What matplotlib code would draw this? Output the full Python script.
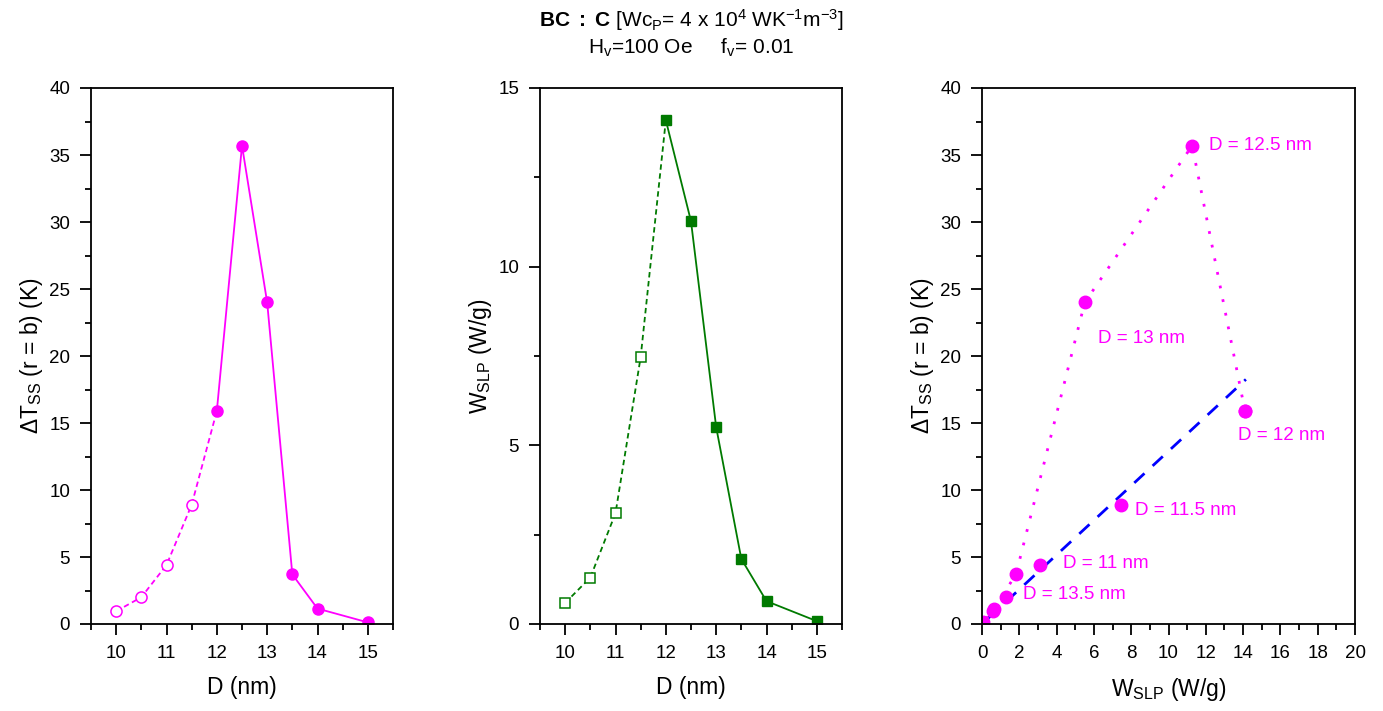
import numpy as np
import matplotlib
matplotlib.use('Agg')
import matplotlib.pyplot as plt
from matplotlib.ticker import MultipleLocator

plt.rcParams['font.family'] = ['Liberation Sans', 'DejaVu Sans']
plt.rcParams['mathtext.fontset'] = 'custom'
plt.rcParams['mathtext.rm'] = 'Liberation Sans'
plt.rcParams['mathtext.bf'] = 'Liberation Sans:bold'
plt.rcParams['mathtext.it'] = 'Liberation Sans:italic'
plt.rcParams['mathtext.default'] = 'regular'

# диаметр частиц (нм)
d_open = [10, 10.5, 11, 11.5, 12]
d_full = [12, 12.5, 13, 13.5, 14, 15]

# перегрев ΔT_SS (K)
dt_open = [0.95, 2.0, 4.4, 8.9, 15.9]
dt_full = [15.9, 35.7, 24.0, 3.7, 1.15, 0.12]

# удельная мощность W_SLP (W/g)
w_open = [0.59, 1.3, 3.1, 7.47, 14.1]
w_full = [14.1, 11.27, 5.51, 1.82, 0.64, 0.08]

# подписи на правом графике: (текст, x, y)
labels = [
    ("D = 12.5 nm", 12.15, 35.7),
    ("D = 13 nm", 6.2, 21.3),
    ("D = 12 nm", 13.7, 14.1),
    ("D = 11.5 nm", 8.2, 8.5),
    ("D = 11 nm", 4.35, 4.5),
    ("D = 13.5 nm", 2.2, 2.2),
]

# линейная зависимость (синяя пунктирная)
fit_slope = 1.29
fit_x = [0.3, 14.15]

MAG = '#FF00FF'
GRN = '#007A00'


def style_axes(ax):
    for s in ax.spines.values():
        s.set_linewidth(1.3)
    ax.tick_params(which='both', direction='out', width=1.3, labelsize=13.5,
                   top=False, right=False)
    ax.tick_params(which='major', length=8, pad=7)
    ax.tick_params(which='minor', length=4)


fig = plt.figure(figsize=(13.83, 7.11), dpi=100)
W, H = 1383, 711


def add_ax(x0, x1, y0=88, y1=624):
    return fig.add_axes([x0 / W, 1 - y1 / H, (x1 - x0) / W, (y1 - y0) / H])


# левый график
ax1 = add_ax(91, 393)
ax1.plot(d_open, dt_open, color=MAG, ls=(0, (3, 2)), lw=1.3)
ax1.plot(d_full, dt_full, color=MAG, ls='-', lw=1.3)
ax1.plot(d_open[:-1], dt_open[:-1], 'o', ms=8, mfc='white', mec=MAG, mew=1.1, ls='none')
ax1.plot(d_full, dt_full, 'o', ms=8, color=MAG, ls='none')
ax1.set_xlim(9.5, 15.5)
ax1.set_ylim(0, 40)
ax1.xaxis.set_major_locator(MultipleLocator(1))
ax1.xaxis.set_minor_locator(MultipleLocator(0.5))
ax1.yaxis.set_major_locator(MultipleLocator(5))
ax1.yaxis.set_minor_locator(MultipleLocator(2.5))
ax1.set_xlabel('D (nm)', fontsize=16.5, labelpad=10)
ax1.set_ylabel(r'$\Delta$T$_{SS}$ (r = b) (K)', fontsize=16.5, labelpad=3)
style_axes(ax1)

# средний график
ax2 = add_ax(540, 842)
ax2.plot(d_open, w_open, color=GRN, ls=(0, (3, 2)), lw=1.3)
ax2.plot(d_full, w_full, color=GRN, ls='-', lw=1.3)
ax2.plot(d_open[:-1], w_open[:-1], 's', ms=7.5, mfc='white', mec=GRN, mew=1.1, ls='none')
ax2.plot(d_full, w_full, 's', ms=7.5, color=GRN, ls='none')
ax2.set_xlim(9.5, 15.5)
ax2.set_ylim(0, 15)
ax2.xaxis.set_major_locator(MultipleLocator(1))
ax2.xaxis.set_minor_locator(MultipleLocator(0.5))
ax2.yaxis.set_major_locator(MultipleLocator(5))
ax2.yaxis.set_minor_locator(MultipleLocator(2.5))
ax2.set_xlabel('D (nm)', fontsize=16.5, labelpad=10)
ax2.set_ylabel(r'W$_{SLP}$ (W/g)', fontsize=16.5, labelpad=3)
style_axes(ax2)

# правый график
ax3 = add_ax(982, 1355)
fx = np.array(fit_x)
ax3.plot(fx, fit_slope * fx, color='#0000FF', ls=(0, (5, 4)), lw=2)
ax3.plot(w_full, dt_full, color=MAG, ls=(0, (1, 4)), lw=2)
ax3.plot(w_open + w_full, dt_open + dt_full, 'o', ms=9, color=MAG, ls='none')
for txt, x, y in labels:
    ax3.text(x, y, txt, color=MAG, fontsize=13.5, va='center', ha='left')
ax3.set_xlim(0, 20)
ax3.set_ylim(0, 40)
ax3.xaxis.set_major_locator(MultipleLocator(2))
ax3.xaxis.set_minor_locator(MultipleLocator(1))
ax3.yaxis.set_major_locator(MultipleLocator(5))
ax3.yaxis.set_minor_locator(MultipleLocator(2.5))
ax3.set_xlabel(r'W$_{SLP}$ (W/g)', fontsize=16.5, labelpad=10)
ax3.set_ylabel(r'$\Delta$T$_{SS}$ (r = b) (K)', fontsize=16.5, labelpad=3)
style_axes(ax3)

fig.text(0.5, 1 - 20 / H, r'$\mathbf{BC\ :\ C}$ [Wc$_P$= 4 x 10$^4$ WK$^{-1}$m$^{-3}$]',
         ha='center', va='center', fontsize=15)
fig.text(0.5, 1 - 48 / H, r'H$_v$=100 Oe     f$_v$= 0.01',
         ha='center', va='center', fontsize=15)

fig.savefig('out.png', dpi=100)
